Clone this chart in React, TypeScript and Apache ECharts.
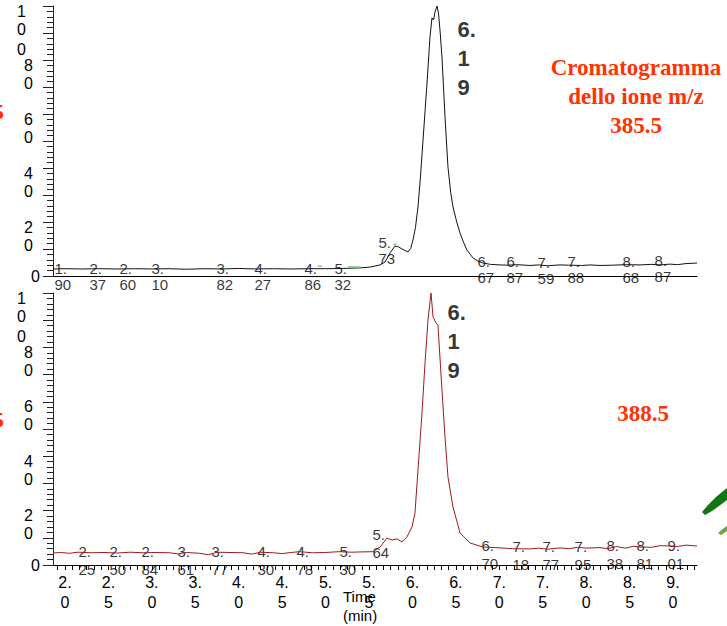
import React, { useEffect, useRef } from 'react';
import * as echarts from 'echarts';

// Retention-time axis range (minutes) shared by both ion traces
const X_MIN = 1.862;
const X_MAX = 9.276;

// Tick labels
const timeTicks = [2.0, 2.5, 3.0, 3.5, 4.0, 4.5, 5.0, 5.5, 6.0, 6.5, 7.0, 7.5, 8.0, 8.5, 9.0];
const intensityTicks = [20, 40, 60, 80, 100];

// Relative abundance (%) vs time (min), ion m/z 385.5
const trace385: [number, number][] = [
  [1.862, 2.6], [2.0, 2.7], [2.2, 2.6], [2.4, 2.7], [2.6, 2.6], [2.8, 2.7], [3.0, 2.6],
  [3.2, 2.7], [3.4, 2.5], [3.6, 2.7], [3.8, 2.6], [4.0, 2.8], [4.2, 2.6], [4.4, 2.7],
  [4.6, 2.6], [4.8, 2.7], [5.0, 2.7], [5.2, 2.8], [5.396, 3.0], [5.511, 3.3], [5.627, 4.1],
  [5.684, 5.2], [5.742, 8.5], [5.799, 11.1], [5.84, 10.8], [5.88, 10.0], [5.949, 8.9],
  [5.98, 10.2], [6.006, 13.3], [6.035, 18.0], [6.064, 25.6], [6.093, 37.0], [6.122, 50.4],
  [6.145, 61.0], [6.168, 71.5], [6.202, 88.5], [6.225, 95.6], [6.243, 94.8], [6.26, 97.8],
  [6.283, 100], [6.3, 97.4], [6.32, 90.0], [6.34, 81.1], [6.375, 58.9], [6.409, 40.4],
  [6.44, 31.0], [6.467, 25.6], [6.51, 20.0], [6.548, 15.9], [6.59, 12.3], [6.628, 9.6],
  [6.697, 6.7], [6.75, 5.6], [6.812, 4.8], [6.9, 4.3], [7.008, 4.1], [7.1, 4.0], [7.2, 4.2],
  [7.353, 3.9], [7.45, 4.1], [7.55, 3.8], [7.699, 4.1], [7.8, 4.0], [7.95, 3.9], [8.05, 4.1],
  [8.159, 3.9], [8.3, 4.0], [8.45, 4.2], [8.62, 4.1], [8.75, 4.3], [8.85, 4.1], [8.965, 4.4],
  [9.05, 4.2], [9.15, 4.6], [9.276, 4.8],
];

// Integration baseline marks on the m/z 385.5 trace
const baseline385: [number, number | string][] = [
  [4.91, 3.7], [4.96, 3.6], [4.96, '-'],
  [5.26, 3.4], [5.40, 3.3], [5.40, '-'],
  [5.78, 11.6], [5.82, 11.9],
];

// Relative abundance (%) vs time (min), ion m/z 388.5
const trace388: [number, number][] = [
  [1.862, 4.4], [1.95, 4.6], [2.05, 4.3], [2.15, 4.7], [2.3, 4.5], [2.45, 4.6], [2.6, 4.4],
  [2.75, 4.7], [2.9, 4.5], [3.05, 4.6], [3.2, 4.5], [3.3, 4.1], [3.4, 4.6], [3.55, 4.3],
  [3.65, 3.8], [3.75, 4.7], [3.9, 4.6], [4.05, 4.5], [4.15, 4.0], [4.25, 4.7], [4.4, 4.5],
  [4.5, 4.2], [4.6, 4.6], [4.7, 4.9], [4.85, 4.5], [5.0, 4.6], [5.15, 4.9], [5.3, 4.7],
  [5.396, 4.8], [5.546, 4.9], [5.627, 6.6], [5.707, 9.9], [5.765, 9.2], [5.822, 9.6],
  [5.88, 8.5], [5.937, 10.3], [5.995, 14.0], [6.029, 19.1], [6.064, 34.9], [6.11, 55.9],
  [6.145, 74.3], [6.179, 90.1], [6.214, 100], [6.237, 91.2], [6.271, 89.0], [6.294, 88.2],
  [6.34, 64.3], [6.375, 47.1], [6.409, 32.4], [6.467, 21.3], [6.548, 11.8], [6.663, 8.1],
  [6.812, 6.6], [7.008, 6.3], [7.15, 6.0], [7.353, 5.9], [7.45, 6.2], [7.55, 5.8],
  [7.699, 6.3], [7.8, 6.0], [7.9, 6.5], [8.0, 6.2], [8.159, 6.4], [8.25, 6.0], [8.35, 6.8],
  [8.45, 6.2], [8.55, 6.9], [8.62, 6.6], [8.75, 6.5], [8.85, 7.1], [8.965, 7.0], [9.05, 6.8],
  [9.15, 7.3], [9.276, 7.0],
];

// Retention-time tags: text, where each tag sits along time, and at what height
const tags385 = ['1.90', '2.37', '2.60', '3.10', '3.82', '4.27', '4.86', '5.32', '5.73',
  '6.67', '6.87', '7.59', '7.88', '8.68', '8.87'];
const tags385At = [1.885, 2.288, 2.633, 3.002, 3.75, 4.187, 4.763, 5.108, 5.615,
  6.755, 7.089, 7.446, 7.791, 8.424, 8.793];
const tags385Level = [5.6, 5.6, 5.6, 5.6, 5.6, 5.6, 5.6, 5.6, 15.2,
  8.1, 8.1, 7.8, 8.1, 8.1, 8.5];

const tags388 = ['2.25', '2.50', '2.84', '3.61', '3.77', '4.30', '4.78', '5.30', '5.64',
  '6.70', '7.18', '7.77', '7.95', '8.38', '8.81', '9.01'];
const tags388At = [2.161, 2.518, 2.886, 3.301, 3.692, 4.222, 4.671, 5.166, 5.546,
  6.801, 7.158, 7.503, 7.872, 8.24, 8.585, 8.942];
const tags388Level = [8.1, 8.1, 8.1, 8.1, 8.1, 8.1, 8.1, 8.1, 14.3,
  10.3, 10.0, 10.0, 10.0, 10.3, 10.3, 10.3];

// Main peak retention time, and where its tag sits in each panel
const mainPeak = '6.19';
const mainPeakTag385: [number, number] = [6.525, 96.5];
const mainPeakTag388: [number, number] = [6.409, 98.0];

const SANS = "'Liberation Sans', Arial, Helvetica, sans-serif";
const SERIF = "'Liberation Serif', 'Times New Roman', serif";
const RED = '#ff3300';

// "6.19" -> "6.\n1\n9"
const stackTag = (s: string) => s.replace('.', '.\n').split('\n')
  .flatMap((part, i) => (i === 0 ? [part] : part.split(''))).join('\n');
// "1.90" -> "1.\n90"
const wrapTag = (s: string) => s.replace('.', '.\n');

// Y labels are written one digit per line, the first line hugging the tick
const stackDigits = (v: number) => {
  const chars = String(v).split('');
  const wide = chars.length === 3 ? 'w' : '';
  const names = ['a', 'b', 'c'];
  return chars.map((c, i) => `{${names[i]}${wide}|${c}}`).join('\n');
};

const digitRich = () => {
  const base = { fontSize: 16, fontFamily: SANS, color: '#000' };
  return {
    a: { ...base, lineHeight: 10 },
    b: { ...base, lineHeight: 26 },
    c: { ...base, lineHeight: 14 },
    aw: { ...base, lineHeight: 10, padding: [0, 7, 0, 0] },
    bw: { ...base, lineHeight: 26, padding: [0, 7, 0, 0] },
    cw: { ...base, lineHeight: 14, padding: [0, 7, 0, 0] },
  };
};

const mainY = (gridIndex: number) => ({
  type: 'value',
  gridIndex,
  position: 'left',
  min: 0,
  max: 100,
  interval: 10,
  axisLine: { show: true, lineStyle: { color: '#222', width: 1 } },
  axisTick: { show: true, length: 10, lineStyle: { color: '#222', width: 1 } },
  minorTick: { show: true, splitNumber: 5, length: 6, lineStyle: { color: '#222', width: 1 } },
  splitLine: { show: false },
  minorSplitLine: { show: false },
  axisLabel: {
    customValues: intensityTicks,
    verticalAlign: 'top',
    margin: 20,
    formatter: stackDigits,
    rich: digitRich(),
  },
});

const zeroY = (gridIndex: number) => ({
  type: 'value',
  gridIndex,
  position: 'left',
  min: 0,
  max: 100,
  axisLine: { show: false },
  axisTick: { show: false },
  splitLine: { show: false },
  axisLabel: {
    customValues: [0],
    verticalAlign: 'middle',
    margin: 13,
    fontSize: 16,
    fontFamily: SANS,
    color: '#000',
  },
});

const fineTimeTicks: number[] = [];
for (let k = Math.ceil(X_MIN * 12); k / 12 <= X_MAX; k++) fineTimeTicks.push(k / 12);

const tagSeries = (
  xAxisIndex: number,
  yAxisIndex: number,
  tags: string[],
  at: number[],
  level: number[],
  layout: (s: string) => string,
  style: Record<string, unknown>,
) => ({
  type: 'scatter',
  xAxisIndex,
  yAxisIndex,
  silent: true,
  symbolSize: 1,
  itemStyle: { color: 'rgba(0,0,0,0)' },
  data: at.map((x, i) => [x, level[i]]),
  label: {
    show: true,
    position: [0, 0],
    align: 'left',
    verticalAlign: 'top',
    color: '#000',
    fontFamily: SANS,
    formatter: (p: { dataIndex: number }) => layout(tags[p.dataIndex]),
    ...style,
  },
});

export default function App() {
  const ref = useRef<HTMLDivElement>(null);

  useEffect(() => {
    if (!ref.current) return;
    const chart = echarts.init(ref.current, null, { renderer: 'svg' });
    chart.setOption({
      animation: false,
      backgroundColor: '#fff',
      grid: [
        { left: 53, right: 30, top: 6, height: 270 },
        { left: 53, right: 30, top: 293, height: 272 },
      ],
      xAxis: [
        {
          type: 'value',
          gridIndex: 0,
          min: X_MIN,
          max: X_MAX,
          axisLine: { show: true, onZero: false, lineStyle: { color: '#000', width: 1 } },
          axisTick: { show: false },
          axisLabel: { show: false },
          splitLine: { show: false },
        },
        {
          type: 'value',
          gridIndex: 1,
          min: X_MIN,
          max: X_MAX,
          axisLine: { show: true, onZero: false, lineStyle: { color: '#000', width: 1 } },
          axisTick: { show: true, customValues: fineTimeTicks, length: 5, lineStyle: { color: '#000' } },
          axisLabel: {
            customValues: timeTicks,
            formatter: (v: number) => v.toFixed(1).replace('.', '.\n'),
            margin: 7,
            fontSize: 16,
            lineHeight: 20,
            fontFamily: SANS,
            color: '#000',
          },
          splitLine: { show: false },
        },
      ],
      yAxis: [mainY(0), zeroY(0), mainY(1), zeroY(1)],
      series: [
        {
          type: 'line',
          xAxisIndex: 0,
          yAxisIndex: 0,
          data: trace385,
          symbol: 'none',
          silent: true,
          lineStyle: { color: '#111', width: 1 },
        },
        {
          type: 'line',
          xAxisIndex: 0,
          yAxisIndex: 0,
          data: baseline385,
          symbol: 'none',
          silent: true,
          connectNulls: false,
          lineStyle: { color: '#7fd07f', width: 1.5 },
        },
        tagSeries(0, 0, tags385, tags385At, tags385Level, wrapTag, { fontSize: 15, lineHeight: 16 }),
        tagSeries(0, 0, [mainPeak], [mainPeakTag385[0]], [mainPeakTag385[1]], stackTag, {
          fontSize: 22, lineHeight: 29, fontWeight: 'bold',
        }),
        {
          type: 'line',
          xAxisIndex: 1,
          yAxisIndex: 2,
          data: trace388,
          symbol: 'none',
          silent: true,
          lineStyle: { color: '#9e1a1a', width: 1 },
        },
        tagSeries(1, 2, tags388, tags388At, tags388Level, wrapTag, { fontSize: 15, lineHeight: 18 }),
        tagSeries(1, 2, [mainPeak], [mainPeakTag388[0]], [mainPeakTag388[1]], stackTag, {
          fontSize: 22, lineHeight: 29, fontWeight: 'bold',
        }),
      ],
      graphic: [
        {
          type: 'text', x: 4, y: 111,
          style: { text: '5', align: 'right', verticalAlign: 'middle', fill: RED, font: `bold 22px ${SERIF}` },
        },
        {
          type: 'text', x: 4, y: 419,
          style: { text: '5', align: 'right', verticalAlign: 'middle', fill: RED, font: `bold 22px ${SERIF}` },
        },
        {
          type: 'text', x: 636, y: 53,
          style: {
            text: 'Cromatogramma\ndello ione m/z\n385.5',
            align: 'center', verticalAlign: 'top', lineHeight: 29,
            fill: RED, font: `bold 23px ${SERIF}`,
          },
        },
        {
          type: 'text', x: 643, y: 413,
          style: { text: '388.5', align: 'center', verticalAlign: 'middle', fill: RED, font: `bold 23px ${SERIF}` },
        },
        {
          type: 'text', x: 343, y: 587,
          style: { text: 'Time\n(min)', align: 'left', verticalAlign: 'top', lineHeight: 19, fill: '#000', font: `15px ${SANS}` },
        },
        {
          type: 'polygon',
          shape: { points: [[702, 512], [708, 505], [716, 497], [722, 492], [727, 488], [727, 500], [719, 506], [712, 511], [705, 515]] },
          style: { fill: '#127612' },
        },
        {
          type: 'polygon',
          shape: { points: [[718, 533], [724, 528], [727, 526], [727, 531], [721, 535]] },
          style: { fill: '#6ea33e' },
        },
      ],
    });
    return () => chart.dispose();
  }, []);

  return (
    <div
      ref={ref}
      style={{ position: 'fixed', left: 0, top: 0, width: 727, height: 626, background: '#fff' }}
    />
  );
}
